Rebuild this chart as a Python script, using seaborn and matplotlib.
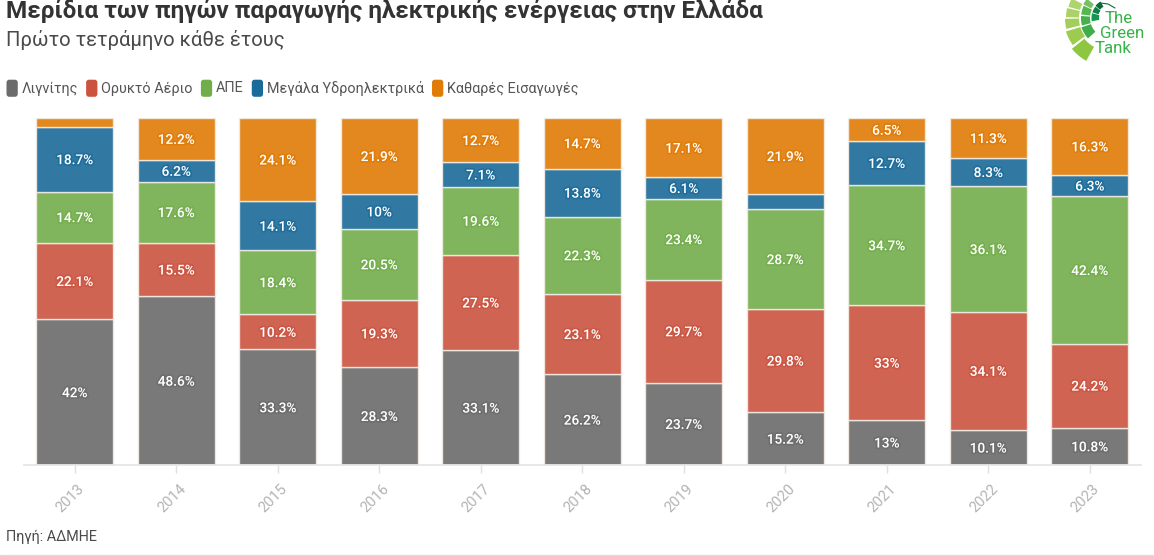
import numpy as np
import pandas as pd
import matplotlib
matplotlib.use("Agg")
import matplotlib.pyplot as plt
import matplotlib.patheffects as pe
from matplotlib.patches import FancyBboxPatch, Polygon, Patch
from matplotlib.legend_handler import HandlerPatch
from matplotlib.lines import Line2D
from matplotlib.transforms import ScaledTranslation
import seaborn as sns

years = ["2013","2014","2015","2016","2017","2018","2019","2020","2021","2022","2023"]
lignite = [42,48.6,33.3,28.3,33.1,26.2,23.7,15.2,13,10.1,10.8]
gas = [22.1,15.5,10.2,19.3,27.5,23.1,29.7,29.8,33,34.1,24.2]
res = [14.7,17.6,18.4,20.5,19.6,22.3,23.4,28.7,34.7,36.1,42.4]
hydro = [18.7,6.2,14.1,10,7.1,13.8,6.1,4.4,12.7,8.3,6.3]
imports = [2.5,12.2,24.1,21.9,12.7,14.7,17.1,21.9,6.5,11.3,16.3]
names = ["Λιγνίτης","Ορυκτό Αέριο","ΑΠΕ","Μεγάλα Υδροηλεκτρικά","Καθαρές Εισαγωγές"]
colors = ["#6b6b6b","#cb5340","#72ad4b","#1a6b99","#e07b06"]
series = [lignite,gas,res,hydro,imports]
hidden_labels = {(0,4),(7,3)}

sns.set_theme(style="white")
plt.rcParams["font.family"] = ["Roboto","Noto Sans","DejaVu Sans"]
W,H = 1154,556
fig = plt.figure(figsize=(W/100,H/100),dpi=100,facecolor="white")
ax = fig.add_axes([24/W,1-465/H,1116.5/W,347/H])

bottom = np.zeros(len(years))
for i,(name,vals,c) in enumerate(zip(names,series,colors)):
    df = pd.DataFrame({"year":years,"value":vals})
    sns.barplot(data=df,x="year",y="value",ax=ax,color=c,bottom=bottom,width=0.755,
                saturation=1,alpha=0.9,edgecolor="#f3ece4",linewidth=1.0,errorbar=None)
    for j,v in enumerate(vals):
        if (j,i) in hidden_labels:
            continue
        t = ax.text(j,bottom[j]+v/2-0.3,f"{v:g}%",ha="center",va="center",color="white",fontsize=9.8,
                    fontweight="medium",zorder=5)
        t.set_path_effects([pe.withStroke(linewidth=2.5,foreground=c,alpha=0.75)])
    bottom = bottom+np.array(vals)

ax.set_xlim(-0.5,10.5)
ax.set_ylim(0,100)
ax.set_xlabel("");ax.set_ylabel("")
ax.set_yticks([])
for s in ["top","left","right"]:
    ax.spines[s].set_visible(False)
ax.spines["bottom"].set_color("#e6e6e6")
ax.spines["bottom"].set_linewidth(1.3)
ax.tick_params(axis="x",length=6,width=1,color="#e0e0e0",labelcolor="#b3b3b3",labelsize=10.6,pad=6,bottom=True)
shift = ScaledTranslation(-4/100,0,fig.dpi_scale_trans)
for l in ax.get_xticklabels():
    l.set_rotation(45);l.set_ha("center");l.set_va("top");l.set_rotation_mode("default")
    l.set_transform(l.get_transform()+shift)

fig.text(6/W,1-11/H,"Μερίδια των πηγών παραγωγής ηλεκτρικής ενέργειας στην Ελλάδα",fontsize=17.5,
         fontweight="bold",color="#333333",va="center",ha="left")
fig.text(6/W,1-40/H,"Πρώτο τετράμηνο κάθε έτους",fontsize=14.6,color="#4a4a4a",va="center",ha="left")
fig.text(6/W,1-537/H,"Πηγή: ΑΔΜΗΕ",fontsize=10.4,color="#4a4a4a",va="center",ha="left")

class RoundHandler(HandlerPatch):
    def create_artists(self,legend,orig,xd,yd,width,height,fontsize,trans):
        p = FancyBboxPatch((-xd,-yd-2),width,height+3,
                           boxstyle="round,pad=0,rounding_size=2",facecolor=orig.get_facecolor(),edgecolor="none",transform=trans)
        return [p]
handles = [Patch(facecolor=c,label=n) for n,c in zip(names,colors)]
fig.legend(handles=handles,loc="center left",bbox_to_anchor=(6.5/W,1-88/H),ncol=5,frameon=False,
           fontsize=10.4,labelcolor="#555555",handlelength=0.78,handleheight=1.0,handletextpad=0.28,
           columnspacing=0.55,borderpad=0,borderaxespad=0,handler_map={Patch:RoundHandler()})

# brand mark drawn in pixel coordinates
ov = fig.add_axes([0,0,1,1],facecolor="none")
ov.set_xlim(0,W);ov.set_ylim(H,0);ov.axis("off")
cx,cy = 1110,18
def cell(r0,r1,a0,a1,c):
    aa = np.radians(np.linspace(a0,a1,8))
    pts = [(cx+r1*np.cos(a),cy+r1*np.sin(a)) for a in aa]+[(cx+r0*np.cos(a),cy+r0*np.sin(a)) for a in aa[::-1]]
    ov.add_patch(Polygon(pts,closed=True,facecolor=c,edgecolor="none"))
cells = [(33,49,119,141,"#8fc640"),(31,46,144,163,"#9ccb4f"),(31,45,166,179,"#a4ce5c"),(31,44,181,193,"#aad266"),(31,43,195,207,"#aed46c"),
         (20,30,137,162,"#3fae4a"),(20,29,165,184,"#45b04c"),(20,29,187,205,"#54b74f"),(21,30,207,220,"#75c163"),
         (11,18.5,170,195,"#169650"),(12,18.5,198,218,"#0f8048"),(13,19,220,240,"#0b6a3c")]
for r0,r1,a0,a1,c in cells:
    cell(r0,r1,a0,a1,c)
ov.add_line(Line2D([1100,1108,1115],[3,4,8],color="#0b6a3c",lw=0.8))
for txt,x,y in [("The",1105,18.5),("Green",1100,33.5),("Tank",1095,48.5)]:
    ov.text(x,y,txt,fontsize=12.2,color="#37b34a",ha="left",va="center")
ov.add_line(Line2D([0,W],[555,555],color="#dddddd",lw=1))

fig.savefig("out.png",dpi=100,facecolor="white")
